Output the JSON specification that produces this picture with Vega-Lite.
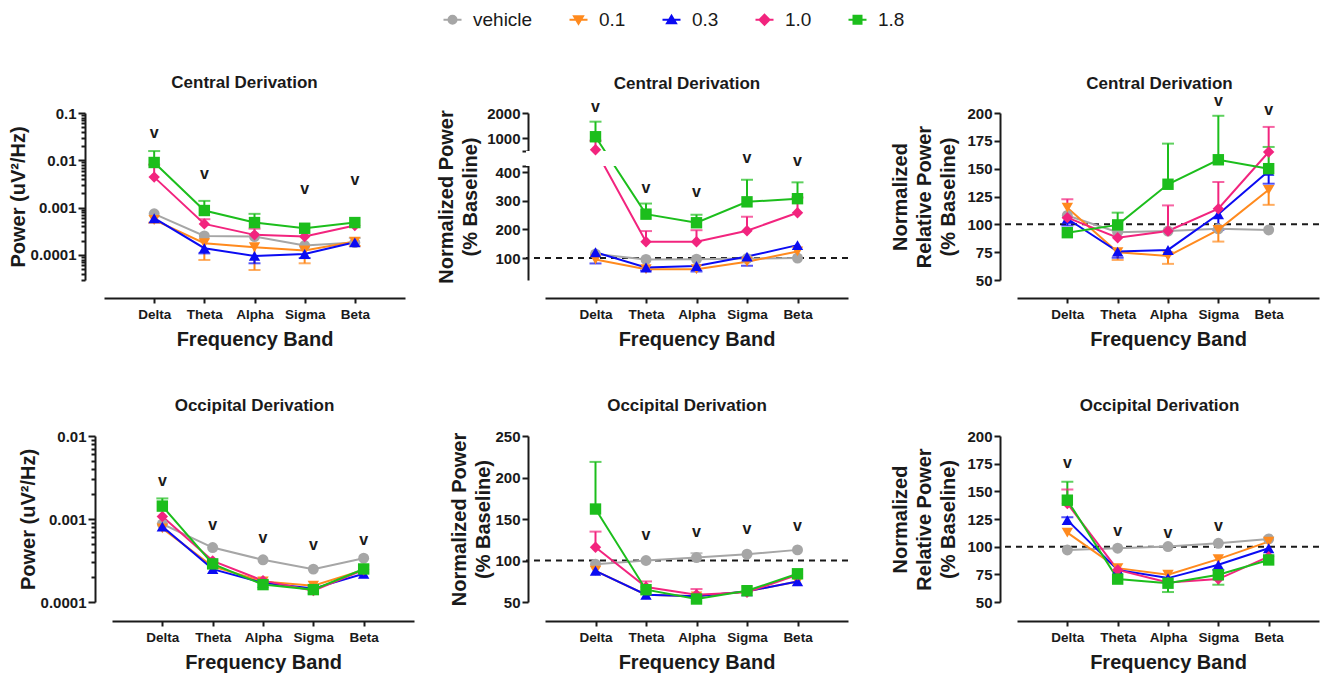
{
"$schema": "https://vega.github.io/schema/vega-lite/v6.json",
"padding": {"left": 8, "top": 10, "right": 0, "bottom": 0},
"config": {
 "view": {"stroke": null},
 "font": "Liberation Sans",
 "axis": {"domainColor": "#1a1a1a", "domainWidth": 2, "tickColor": "#1a1a1a", "tickWidth": 2, "tickSize": 6, "labelFont": "Liberation Sans", "labelFontWeight": "bold", "labelColor": "#1a1a1a", "titleFont": "Liberation Sans", "titleFontWeight": "bold", "titleFontSize": 20, "titleColor": "#1a1a1a", "grid": false, "titleLineHeight": 24, "labelOverlap": false},
 "axisX": {"labelFontSize": 13.5, "labelAngle": 0, "tickSize": 5, "labelPadding": 4, "titlePadding": 9},
 "axisY": {"labelFontSize": 15, "labelPadding": 2},
 "title": {"font": "Liberation Sans", "fontSize": 17, "fontWeight": "bold", "color": "#1a1a1a", "frame": "group", "offset": 14}
},
"datasets": {
 "p1": [
  {"b":"Delta","g":"vehicle","v":0.00074},{"b":"Theta","g":"vehicle","v":0.000253},{"b":"Alpha","g":"vehicle","v":0.000245},{"b":"Sigma","g":"vehicle","v":0.000158},{"b":"Beta","g":"vehicle","v":0.000183,"e":0.000228},
  {"b":"Delta","g":"0.1","v":0.00055,"e":0.00048},{"b":"Theta","g":"0.1","v":0.000177,"e":0.0000785},{"b":"Alpha","g":"0.1","v":0.000146,"e":0.0000482},{"b":"Sigma","g":"0.1","v":0.000124,"e":0.0000667},{"b":"Beta","g":"0.1","v":0.000192,"e":0.000155},
  {"b":"Delta","g":"0.3","v":0.000598},{"b":"Theta","g":"0.3","v":0.000139,"e":0.000108},{"b":"Alpha","g":"0.3","v":0.0000955,"e":0.0000667},{"b":"Sigma","g":"0.3","v":0.000105,"e":0.000086},{"b":"Beta","g":"0.3","v":0.000185},
  {"b":"Delta","g":"1.0","v":0.00442,"e":0.0081},{"b":"Theta","g":"1.0","v":0.000454,"e":0.00057},{"b":"Alpha","g":"1.0","v":0.000266,"e":0.00036},{"b":"Sigma","g":"1.0","v":0.000245},{"b":"Beta","g":"1.0","v":0.000419},
  {"b":"Delta","g":"1.8","v":0.009,"e":0.0157},{"b":"Theta","g":"1.8","v":0.00087,"e":0.00139},{"b":"Alpha","g":"1.8","v":0.000484,"e":0.00074},{"b":"Sigma","g":"1.8","v":0.000367},{"b":"Beta","g":"1.8","v":0.000484}
 ],
 "p1v": [{"b":"Delta","y":0.0366},{"b":"Theta","y":0.00494},{"b":"Sigma","y":0.00238},{"b":"Beta","y":0.00357}],
 "p2": [
  {"b":"Delta","g":"vehicle","v":114},{"b":"Theta","g":"vehicle","v":95},{"b":"Alpha","g":"vehicle","v":96},{"b":"Sigma","g":"vehicle","v":98},{"b":"Beta","g":"vehicle","v":100},
  {"b":"Delta","g":"0.1","v":95},{"b":"Theta","g":"0.1","v":61},{"b":"Alpha","g":"0.1","v":61},{"b":"Sigma","g":"0.1","v":87},{"b":"Beta","g":"0.1","v":123},
  {"b":"Delta","g":"0.3","v":120,"e":81},{"b":"Theta","g":"0.3","v":67,"e":56},{"b":"Alpha","g":"0.3","v":72,"e":53},{"b":"Sigma","g":"0.3","v":105,"e":73},{"b":"Beta","g":"0.3","v":145},
  {"b":"Delta","g":"1.0","v":533,"e":893},{"b":"Theta","g":"1.0","v":157,"e":194},{"b":"Alpha","g":"1.0","v":157,"e":197},{"b":"Sigma","g":"1.0","v":195,"e":244},{"b":"Beta","g":"1.0","v":258,"e":311},
  {"b":"Delta","g":"1.8","v":1050,"e":1653},{"b":"Theta","g":"1.8","v":253,"e":290},{"b":"Alpha","g":"1.8","v":223,"e":251},{"b":"Sigma","g":"1.8","v":296,"e":373},{"b":"Beta","g":"1.8","v":307,"e":364}
 ],
 "p2v": [{"b":"Delta","y":2200},{"b":"Theta","y":342},{"b":"Alpha","y":327},{"b":"Sigma","y":447},{"b":"Beta","y":438}],
 "p3": [
  {"b":"Delta","g":"vehicle","v":108},{"b":"Theta","g":"vehicle","v":93},{"b":"Alpha","g":"vehicle","v":94},{"b":"Sigma","g":"vehicle","v":96},{"b":"Beta","g":"vehicle","v":95},
  {"b":"Delta","g":"0.1","v":115},{"b":"Theta","g":"0.1","v":75,"e":68},{"b":"Alpha","g":"0.1","v":71.5,"e":64.5},{"b":"Sigma","g":"0.1","v":95,"e":84.5},{"b":"Beta","g":"0.1","v":131,"e":117.5},
  {"b":"Delta","g":"0.3","v":105,"e":99},{"b":"Theta","g":"0.3","v":75.5,"e":70},{"b":"Alpha","g":"0.3","v":77},{"b":"Sigma","g":"0.3","v":109,"e":95},{"b":"Beta","g":"0.3","v":148,"e":136.5},
  {"b":"Delta","g":"1.0","v":106,"e":122.5},{"b":"Theta","g":"1.0","v":88},{"b":"Alpha","g":"1.0","v":94,"e":117},{"b":"Sigma","g":"1.0","v":114,"e":138},{"b":"Beta","g":"1.0","v":165,"e":187.5},
  {"b":"Delta","g":"1.8","v":92.5},{"b":"Theta","g":"1.8","v":99.5,"e":110.5},{"b":"Alpha","g":"1.8","v":136,"e":172.5},{"b":"Sigma","g":"1.8","v":158,"e":197.5},{"b":"Beta","g":"1.8","v":150,"e":169.5}
 ],
 "p3v": [{"b":"Sigma","y":209.6},{"b":"Beta","y":201.5}],
 "p4": [
  {"b":"Delta","g":"vehicle","v":0.00087},{"b":"Theta","g":"vehicle","v":0.000453},{"b":"Alpha","g":"vehicle","v":0.000322},{"b":"Sigma","g":"vehicle","v":0.000249},{"b":"Beta","g":"vehicle","v":0.000337},
  {"b":"Delta","g":"0.1","v":0.00077},{"b":"Theta","g":"0.1","v":0.000268},{"b":"Alpha","g":"0.1","v":0.000177},{"b":"Sigma","g":"0.1","v":0.000157},{"b":"Beta","g":"0.1","v":0.000244},
  {"b":"Delta","g":"0.3","v":0.00081},{"b":"Theta","g":"0.3","v":0.000249},{"b":"Alpha","g":"0.3","v":0.00017},{"b":"Sigma","g":"0.3","v":0.000145},{"b":"Beta","g":"0.3","v":0.000219},
  {"b":"Delta","g":"1.0","v":0.00107},{"b":"Theta","g":"1.0","v":0.000313},{"b":"Alpha","g":"1.0","v":0.000181},{"b":"Sigma","g":"1.0","v":0.000137},{"b":"Beta","g":"1.0","v":0.000244},
  {"b":"Delta","g":"1.8","v":0.00143,"e":0.00177},{"b":"Theta","g":"1.8","v":0.000288},{"b":"Alpha","g":"1.8","v":0.000162},{"b":"Sigma","g":"1.8","v":0.000141},{"b":"Beta","g":"1.8","v":0.00025}
 ],
 "p4v": [{"b":"Delta","y":0.0028},{"b":"Theta","y":0.000824},{"b":"Alpha","y":0.000575},{"b":"Sigma","y":0.000479},{"b":"Beta","y":0.00055}],
 "p5": [
  {"b":"Delta","g":"vehicle","v":95.6},{"b":"Theta","g":"vehicle","v":100},{"b":"Alpha","g":"vehicle","v":103.6,"e":108.8},{"b":"Sigma","g":"vehicle","v":107.6},{"b":"Beta","g":"vehicle","v":112.8},
  {"b":"Delta","g":"0.1","v":87.6},{"b":"Theta","g":"0.1","v":58.8},{"b":"Alpha","g":"0.1","v":56.8},{"b":"Sigma","g":"0.1","v":62.8},{"b":"Beta","g":"0.1","v":74.8},
  {"b":"Delta","g":"0.3","v":87.6},{"b":"Theta","g":"0.3","v":58.8},{"b":"Alpha","g":"0.3","v":56.8},{"b":"Sigma","g":"0.3","v":62.8},{"b":"Beta","g":"0.3","v":74.8},
  {"b":"Delta","g":"1.0","v":116,"e":134.8},{"b":"Theta","g":"1.0","v":68,"e":74.8},{"b":"Alpha","g":"1.0","v":58.8,"e":65.6},{"b":"Sigma","g":"1.0","v":61.6},{"b":"Beta","g":"1.0","v":82.8},
  {"b":"Delta","g":"1.8","v":162,"e":218.8},{"b":"Theta","g":"1.8","v":64.8},{"b":"Alpha","g":"1.8","v":53.6},{"b":"Sigma","g":"1.8","v":63.6},{"b":"Beta","g":"1.8","v":84}
 ],
 "p5v": [{"b":"Theta","y":130},{"b":"Alpha","y":132.8},{"b":"Sigma","y":136.8},{"b":"Beta","y":140.8}],
 "p6": [
  {"b":"Delta","g":"vehicle","v":97},{"b":"Theta","g":"vehicle","v":98.6},{"b":"Alpha","g":"vehicle","v":100.1},{"b":"Sigma","g":"vehicle","v":103},{"b":"Beta","g":"vehicle","v":107},
  {"b":"Delta","g":"0.1","v":112.7},{"b":"Theta","g":"0.1","v":80.6},{"b":"Alpha","g":"0.1","v":74.6},{"b":"Sigma","g":"0.1","v":88.7},{"b":"Beta","g":"0.1","v":104.6},
  {"b":"Delta","g":"0.3","v":124,"e":126.5},{"b":"Theta","g":"0.3","v":79},{"b":"Alpha","g":"0.3","v":71.6},{"b":"Sigma","g":"0.3","v":83.6,"e":79},{"b":"Beta","g":"0.3","v":98.6},
  {"b":"Delta","g":"1.0","v":139,"e":151.7},{"b":"Theta","g":"1.0","v":79},{"b":"Alpha","g":"1.0","v":67.7},{"b":"Sigma","g":"1.0","v":70.7},{"b":"Beta","g":"1.0","v":91},
  {"b":"Delta","g":"1.8","v":142,"e":158.6},{"b":"Theta","g":"1.8","v":70.7},{"b":"Alpha","g":"1.8","v":67,"e":59},{"b":"Sigma","g":"1.8","v":74.6,"e":65.6},{"b":"Beta","g":"1.8","v":88}
 ],
 "p6v": [{"b":"Delta","y":174.5},{"b":"Theta","y":113.6},{"b":"Alpha","y":111.5},{"b":"Sigma","y":118}]
},
"columns": 3,
"spacing": {"row": 156, "column": 152},
"bounds": "flush",
"align": "each",
"concat": [
 {
  "width": 279, "height": 167,
  "title": {"text": "Central Derivation", "dx": 10},
  "data": {"name": "p1"},
  "encoding": {
   "x": {"field": "b", "type": "ordinal", "sort": ["Delta","Theta","Alpha","Sigma","Beta"], "scale": {"type": "point", "padding": 1, "range": [9, 310]}, "axis": {"title": "Frequency Band", "offset": 18}},
   "y": {"field": "v", "type": "quantitative", "scale": {"type": "log", "domain": [0.0000296, 0.1], "nice": false}, "axis": {"title": "Power (uV²/Hz)", "offset": 10, "titlePadding": 2, "labelOverlap": false, "values": [0.1,0.09,0.08,0.07,0.06,0.05,0.04,0.03,0.02,0.01,0.009,0.008,0.007,0.006,0.005,0.004,0.003,0.002,0.001,0.0009,0.0008,0.0007,0.0006,0.0005,0.0004,0.0003,0.0002,0.0001,0.00009,0.00008,0.00007,0.00006,0.00005,0.00004,0.00003], "labelExpr": "indexof([0.1,0.01,0.001,0.0001], datum.value) >= 0 ? format(datum.value, '~g') : ''", "tickSize": {"condition": {"test": "indexof([0.1,0.01,0.001,0.0001], datum.value) >= 0", "value": 7}, "value": 4}}},
   "color": {"field": "g", "type": "nominal", "scale": {"domain": ["vehicle","0.1","0.3","1.0","1.8"], "range": ["#A6A6A6","#FF8A1E","#0B0BF2","#F2247E","#1CBE1C"]},
    "legend": {"title": null, "orient": "none", "legendX": 348, "legendY": -103, "direction": "horizontal", "labelFont": "Liberation Sans", "labelFontSize": 19, "labelFontWeight": "normal", "labelColor": "#1a1a1a", "symbolSize": 100, "symbolStrokeWidth": 2, "labelOffset": 11, "columnPadding": 32, "padding": 0,
     "encode": {"symbols": {"update": {
      "shape": {"signal": "datum.value === 'vehicle' ? 'M-1.8,0H1.8M-0.8,0A0.8,0.8,0,1,1,0.8,0A0.8,0.8,0,1,1,-0.8,0Z' : datum.value === '0.1' ? 'M-1.8,0H1.8M-0.9,-0.7L0.9,-0.7L0,0.8Z' : datum.value === '0.3' ? 'M-1.8,0H1.8M-0.9,0.7L0.9,0.7L0,-0.8Z' : datum.value === '1.0' ? 'M-1.8,0H1.8M0,-1L1,0L0,1L-1,0Z' : 'M-1.8,0H1.8M-0.8,-0.8H0.8V0.8H-0.8Z'"},
      "fill": {"scale": "color", "field": "value"}, "stroke": {"scale": "color", "field": "value"}, "strokeWidth": {"value": 2}, "opacity": {"value": 1}}}}}}
  },
  "layer": [
   {"transform": [{"filter": "isValid(datum.e)"}], "mark": {"type": "rule", "strokeWidth": 2}, "encoding": {"y2": {"field": "e"}}},
   {"transform": [{"filter": "isValid(datum.e)"}], "mark": {"type": "tick", "thickness": 2, "size": 12}, "encoding": {"y": {"field": "e", "type": "quantitative", "scale": {"type": "log", "domain": [0.0000296, 0.1], "nice": false}}}},
   {"mark": {"type": "line", "strokeWidth": 2}},
   {"transform": [{"filter": "datum.g === 'vehicle'"}], "mark": {"type": "point", "shape": "circle", "filled": true, "size": 120, "opacity": 1}},
   {"transform": [{"filter": "datum.g === '0.1'"}], "mark": {"type": "point", "shape": "triangle-down", "filled": true, "size": 130, "opacity": 1}},
   {"transform": [{"filter": "datum.g === '0.3'"}], "mark": {"type": "point", "shape": "triangle-up", "filled": true, "size": 130, "opacity": 1}},
   {"transform": [{"filter": "datum.g === '1.0'"}], "mark": {"type": "point", "shape": "diamond", "filled": true, "size": 130, "opacity": 1}},
   {"transform": [{"filter": "datum.g === '1.8'"}], "mark": {"type": "point", "shape": "square", "filled": true, "size": 130, "opacity": 1}},
   {"data": {"name": "p1v"}, "mark": {"type": "text", "text": "v", "fontSize": 16, "fontWeight": "bold", "font": "Liberation Sans", "baseline": "alphabetic", "dy": 4},
    "encoding": {"y": {"field": "y", "type": "quantitative", "scale": {"type": "log", "domain": [0.0000296, 0.1], "nice": false}}, "color": {"value": "#1a1a1a"}}}
  ]
 },
 {
  "width": 322, "height": 167,
  "title": {"text": "Central Derivation", "offset": 6},
  "layer": [
   {"data": {"values": [{}]}, "mark": {"type": "rule", "strokeDash": [6,5], "strokeWidth": 2, "color": "#1a1a1a"},
    "encoding": {"y": {"datum": 100, "type": "quantitative", "scale": {"domain": [23.3, 421, 480, 2000], "range": [167, 53, 38, 0], "nice": false, "zero": false}, "axis": {"title": ["Normalized Power", "(% Baseline)"], "offset": -2, "titlePadding": 6, "labelOverlap": false, "values": [100,200,300,400,421,480,1000,2000], "format": "d", "labelExpr": "datum.value == 421 || datum.value == 480 ? '' : datum.label"}}}},
   {"data": {"name": "p2"},
    "encoding": {
     "x": {"field": "b", "type": "ordinal", "sort": ["Delta","Theta","Alpha","Sigma","Beta"], "scale": {"type": "point", "padding": 1, "range": [19, 322]}, "axis": {"title": "Frequency Band", "offset": 18}},
     "y": {"field": "v", "type": "quantitative", "scale": {"domain": [23.3, 421, 480, 2000], "range": [167, 53, 38, 0], "nice": false, "zero": false}, "axis": {"title": ["Normalized Power", "(% Baseline)"], "offset": -2, "titlePadding": 6, "labelOverlap": false, "values": [100,200,300,400,421,480,1000,2000], "format": "d", "labelExpr": "datum.value == 421 || datum.value == 480 ? '' : datum.label"}},
     "color": {"field": "g", "type": "nominal", "scale": {"domain": ["vehicle","0.1","0.3","1.0","1.8"], "range": ["#A6A6A6","#FF8A1E","#0B0BF2","#F2247E","#1CBE1C"]},
      "legend": {"title": null, "orient": "none", "legendX": 348, "legendY": -103, "direction": "horizontal", "labelFont": "Liberation Sans", "labelFontSize": 19, "labelFontWeight": "normal", "labelColor": "#1a1a1a", "symbolSize": 100, "symbolStrokeWidth": 2, "labelOffset": 11, "columnPadding": 32, "padding": 0,
       "encode": {"symbols": {"update": {
        "shape": {"signal": "datum.value === 'vehicle' ? 'M-1.8,0H1.8M-0.8,0A0.8,0.8,0,1,1,0.8,0A0.8,0.8,0,1,1,-0.8,0Z' : datum.value === '0.1' ? 'M-1.8,0H1.8M-0.9,-0.7L0.9,-0.7L0,0.8Z' : datum.value === '0.3' ? 'M-1.8,0H1.8M-0.9,0.7L0.9,0.7L0,-0.8Z' : datum.value === '1.0' ? 'M-1.8,0H1.8M0,-1L1,0L0,1L-1,0Z' : 'M-1.8,0H1.8M-0.8,-0.8H0.8V0.8H-0.8Z'"},
        "fill": {"scale": "color", "field": "value"}, "stroke": {"scale": "color", "field": "value"}, "strokeWidth": {"value": 2}, "opacity": {"value": 1}}}}}}
    },
    "layer": [
     {"transform": [{"filter": "isValid(datum.e)"}], "mark": {"type": "rule", "strokeWidth": 2}, "encoding": {"y2": {"field": "e"}}},
     {"transform": [{"filter": "isValid(datum.e)"}], "mark": {"type": "tick", "thickness": 2, "size": 12}, "encoding": {"y": {"field": "e", "type": "quantitative", "scale": {"domain": [23.3, 421, 480, 2000], "range": [167, 53, 38, 0], "nice": false, "zero": false}, "axis": {"title": ["Normalized Power", "(% Baseline)"], "offset": -2, "titlePadding": 6, "labelOverlap": false, "values": [100,200,300,400,421,480,1000,2000], "format": "d", "labelExpr": "datum.value == 421 || datum.value == 480 ? '' : datum.label"}}}},
     {"mark": {"type": "line", "strokeWidth": 2}}
    ]},
   {"data": {"values": [{}]}, "mark": {"type": "rect", "color": "white"},
    "encoding": {"y": {"datum": 421, "type": "quantitative", "scale": {"domain": [23.3, 421, 480, 2000], "range": [167, 53, 38, 0], "nice": false, "zero": false}, "axis": {"title": ["Normalized Power", "(% Baseline)"], "offset": -2, "titlePadding": 6, "labelOverlap": false, "values": [100,200,300,400,421,480,1000,2000], "format": "d", "labelExpr": "datum.value == 421 || datum.value == 480 ? '' : datum.label"}}, "y2": {"datum": 480}}},
   {"data": {"name": "p2"},
    "encoding": {
     "x": {"field": "b", "type": "ordinal", "sort": ["Delta","Theta","Alpha","Sigma","Beta"], "scale": {"type": "point", "padding": 1, "range": [19, 322]}, "axis": {"title": "Frequency Band", "offset": 18}},
     "y": {"field": "v", "type": "quantitative", "scale": {"domain": [23.3, 421, 480, 2000], "range": [167, 53, 38, 0], "nice": false, "zero": false}, "axis": {"title": ["Normalized Power", "(% Baseline)"], "offset": -2, "titlePadding": 6, "labelOverlap": false, "values": [100,200,300,400,421,480,1000,2000], "format": "d", "labelExpr": "datum.value == 421 || datum.value == 480 ? '' : datum.label"}},
     "color": {"field": "g", "type": "nominal", "scale": {"domain": ["vehicle","0.1","0.3","1.0","1.8"], "range": ["#A6A6A6","#FF8A1E","#0B0BF2","#F2247E","#1CBE1C"]},
      "legend": {"title": null, "orient": "none", "legendX": 348, "legendY": -103, "direction": "horizontal", "labelFont": "Liberation Sans", "labelFontSize": 19, "labelFontWeight": "normal", "labelColor": "#1a1a1a", "symbolSize": 100, "symbolStrokeWidth": 2, "labelOffset": 11, "columnPadding": 32, "padding": 0,
       "encode": {"symbols": {"update": {
        "shape": {"signal": "datum.value === 'vehicle' ? 'M-1.8,0H1.8M-0.8,0A0.8,0.8,0,1,1,0.8,0A0.8,0.8,0,1,1,-0.8,0Z' : datum.value === '0.1' ? 'M-1.8,0H1.8M-0.9,-0.7L0.9,-0.7L0,0.8Z' : datum.value === '0.3' ? 'M-1.8,0H1.8M-0.9,0.7L0.9,0.7L0,-0.8Z' : datum.value === '1.0' ? 'M-1.8,0H1.8M0,-1L1,0L0,1L-1,0Z' : 'M-1.8,0H1.8M-0.8,-0.8H0.8V0.8H-0.8Z'"},
        "fill": {"scale": "color", "field": "value"}, "stroke": {"scale": "color", "field": "value"}, "strokeWidth": {"value": 2}, "opacity": {"value": 1}}}}}}
    },
    "layer": [
     {"transform": [{"filter": "datum.g === 'vehicle'"}], "mark": {"type": "point", "shape": "circle", "filled": true, "size": 120, "opacity": 1}},
     {"transform": [{"filter": "datum.g === '0.1'"}], "mark": {"type": "point", "shape": "triangle-down", "filled": true, "size": 130, "opacity": 1}},
     {"transform": [{"filter": "datum.g === '0.3'"}], "mark": {"type": "point", "shape": "triangle-up", "filled": true, "size": 130, "opacity": 1}},
     {"transform": [{"filter": "datum.g === '1.0'"}], "mark": {"type": "point", "shape": "diamond", "filled": true, "size": 130, "opacity": 1}},
     {"transform": [{"filter": "datum.g === '1.8'"}], "mark": {"type": "point", "shape": "square", "filled": true, "size": 130, "opacity": 1}},
     {"data": {"name": "p2v"}, "mark": {"type": "text", "text": "v", "fontSize": 16, "fontWeight": "bold", "font": "Liberation Sans", "baseline": "alphabetic", "dy": 4},
      "encoding": {"y": {"field": "y", "type": "quantitative", "scale": {"domain": [23.3, 421, 480, 2000], "range": [167, 53, 38, 0], "nice": false, "zero": false}, "axis": {"title": ["Normalized Power", "(% Baseline)"], "offset": -2, "titlePadding": 6, "labelOverlap": false, "values": [100,200,300,400,421,480,1000,2000], "format": "d", "labelExpr": "datum.value == 421 || datum.value == 480 ? '' : datum.label"}}, "color": {"value": "#1a1a1a"}}}
    ]}
  ]
 },
 {
  "width": 319, "height": 167,
  "title": {"text": "Central Derivation", "offset": 0},
  "layer": [
   {"data": {"values": [{}]}, "mark": {"type": "rule", "strokeDash": [6,5], "strokeWidth": 2, "color": "#1a1a1a"},
    "encoding": {"y": {"datum": 100, "type": "quantitative", "scale": {"domain": [50, 200], "nice": false, "zero": false}, "axis": {"title": ["Normalized", "Relative Power", "(% Baseline)"], "titlePadding": 8, "labelOverlap": false, "values": [50,75,100,125,150,175,200], "format": "d"}}}},
   {"data": {"name": "p3"},
    "encoding": {
     "x": {"field": "b", "type": "ordinal", "sort": ["Delta","Theta","Alpha","Sigma","Beta"], "scale": {"type": "point", "padding": 1, "range": [17, 319]}, "axis": {"title": "Frequency Band", "offset": 18}},
     "y": {"field": "v", "type": "quantitative", "scale": {"domain": [50, 200], "nice": false, "zero": false}, "axis": {"title": ["Normalized", "Relative Power", "(% Baseline)"], "titlePadding": 8, "labelOverlap": false, "values": [50,75,100,125,150,175,200], "format": "d"}},
     "color": {"field": "g", "type": "nominal", "scale": {"domain": ["vehicle","0.1","0.3","1.0","1.8"], "range": ["#A6A6A6","#FF8A1E","#0B0BF2","#F2247E","#1CBE1C"]},
      "legend": {"title": null, "orient": "none", "legendX": 348, "legendY": -103, "direction": "horizontal", "labelFont": "Liberation Sans", "labelFontSize": 19, "labelFontWeight": "normal", "labelColor": "#1a1a1a", "symbolSize": 100, "symbolStrokeWidth": 2, "labelOffset": 11, "columnPadding": 32, "padding": 0,
       "encode": {"symbols": {"update": {
        "shape": {"signal": "datum.value === 'vehicle' ? 'M-1.8,0H1.8M-0.8,0A0.8,0.8,0,1,1,0.8,0A0.8,0.8,0,1,1,-0.8,0Z' : datum.value === '0.1' ? 'M-1.8,0H1.8M-0.9,-0.7L0.9,-0.7L0,0.8Z' : datum.value === '0.3' ? 'M-1.8,0H1.8M-0.9,0.7L0.9,0.7L0,-0.8Z' : datum.value === '1.0' ? 'M-1.8,0H1.8M0,-1L1,0L0,1L-1,0Z' : 'M-1.8,0H1.8M-0.8,-0.8H0.8V0.8H-0.8Z'"},
        "fill": {"scale": "color", "field": "value"}, "stroke": {"scale": "color", "field": "value"}, "strokeWidth": {"value": 2}, "opacity": {"value": 1}}}}}}
    },
    "layer": [
     {"transform": [{"filter": "isValid(datum.e)"}], "mark": {"type": "rule", "strokeWidth": 2}, "encoding": {"y2": {"field": "e"}}},
     {"transform": [{"filter": "isValid(datum.e)"}], "mark": {"type": "tick", "thickness": 2, "size": 12}, "encoding": {"y": {"field": "e", "type": "quantitative", "scale": {"domain": [50, 200], "nice": false, "zero": false}, "axis": {"title": ["Normalized", "Relative Power", "(% Baseline)"], "titlePadding": 8, "labelOverlap": false, "values": [50,75,100,125,150,175,200], "format": "d"}}}},
     {"mark": {"type": "line", "strokeWidth": 2}},
     {"transform": [{"filter": "datum.g === 'vehicle'"}], "mark": {"type": "point", "shape": "circle", "filled": true, "size": 120, "opacity": 1}},
     {"transform": [{"filter": "datum.g === '0.1'"}], "mark": {"type": "point", "shape": "triangle-down", "filled": true, "size": 130, "opacity": 1}},
     {"transform": [{"filter": "datum.g === '0.3'"}], "mark": {"type": "point", "shape": "triangle-up", "filled": true, "size": 130, "opacity": 1}},
     {"transform": [{"filter": "datum.g === '1.0'"}], "mark": {"type": "point", "shape": "diamond", "filled": true, "size": 130, "opacity": 1}},
     {"transform": [{"filter": "datum.g === '1.8'"}], "mark": {"type": "point", "shape": "square", "filled": true, "size": 130, "opacity": 1}},
     {"data": {"name": "p3v"}, "mark": {"type": "text", "text": "v", "fontSize": 16, "fontWeight": "bold", "font": "Liberation Sans", "baseline": "alphabetic", "dy": 4},
      "encoding": {"y": {"field": "y", "type": "quantitative", "scale": {"domain": [50, 200], "nice": false, "zero": false}, "axis": {"title": ["Normalized", "Relative Power", "(% Baseline)"], "titlePadding": 8, "labelOverlap": false, "values": [50,75,100,125,150,175,200], "format": "d"}}, "color": {"value": "#1a1a1a"}}}
    ]}
  ]
 },
 {
  "width": 279, "height": 166,
  "title": {"text": "Occipital Derivation", "dx": 20},
  "data": {"name": "p4"},
  "encoding": {
   "x": {"field": "b", "type": "ordinal", "sort": ["Delta","Theta","Alpha","Sigma","Beta"], "scale": {"type": "point", "padding": 1, "range": [17, 319]}, "axis": {"title": "Frequency Band", "offset": 19}},
   "y": {"field": "v", "type": "quantitative", "scale": {"type": "log", "domain": [0.0001, 0.01], "nice": false}, "axis": {"title": "Power (uV²/Hz)", "titlePadding": 2, "labelOverlap": false, "values": [0.01,0.009,0.008,0.007,0.006,0.005,0.004,0.003,0.002,0.001,0.0009,0.0008,0.0007,0.0006,0.0005,0.0004,0.0003,0.0002,0.0001], "labelExpr": "indexof([0.01,0.001,0.0001], datum.value) >= 0 ? format(datum.value, '~g') : ''", "tickSize": {"condition": {"test": "indexof([0.01,0.001,0.0001], datum.value) >= 0", "value": 7}, "value": 4}}},
   "color": {"field": "g", "type": "nominal", "scale": {"domain": ["vehicle","0.1","0.3","1.0","1.8"], "range": ["#A6A6A6","#FF8A1E","#0B0BF2","#F2247E","#1CBE1C"]},
    "legend": {"title": null, "orient": "none", "legendX": 348, "legendY": -103, "direction": "horizontal", "labelFont": "Liberation Sans", "labelFontSize": 19, "labelFontWeight": "normal", "labelColor": "#1a1a1a", "symbolSize": 100, "symbolStrokeWidth": 2, "labelOffset": 11, "columnPadding": 32, "padding": 0,
     "encode": {"symbols": {"update": {
      "shape": {"signal": "datum.value === 'vehicle' ? 'M-1.8,0H1.8M-0.8,0A0.8,0.8,0,1,1,0.8,0A0.8,0.8,0,1,1,-0.8,0Z' : datum.value === '0.1' ? 'M-1.8,0H1.8M-0.9,-0.7L0.9,-0.7L0,0.8Z' : datum.value === '0.3' ? 'M-1.8,0H1.8M-0.9,0.7L0.9,0.7L0,-0.8Z' : datum.value === '1.0' ? 'M-1.8,0H1.8M0,-1L1,0L0,1L-1,0Z' : 'M-1.8,0H1.8M-0.8,-0.8H0.8V0.8H-0.8Z'"},
      "fill": {"scale": "color", "field": "value"}, "stroke": {"scale": "color", "field": "value"}, "strokeWidth": {"value": 2}, "opacity": {"value": 1}}}}}}
  },
  "layer": [
   {"transform": [{"filter": "isValid(datum.e)"}], "mark": {"type": "rule", "strokeWidth": 2}, "encoding": {"y2": {"field": "e"}}},
   {"transform": [{"filter": "isValid(datum.e)"}], "mark": {"type": "tick", "thickness": 2, "size": 12}, "encoding": {"y": {"field": "e", "type": "quantitative"}}},
   {"mark": {"type": "line", "strokeWidth": 2}},
   {"transform": [{"filter": "datum.g === 'vehicle'"}], "mark": {"type": "point", "shape": "circle", "filled": true, "size": 120, "opacity": 1}},
   {"transform": [{"filter": "datum.g === '0.1'"}], "mark": {"type": "point", "shape": "triangle-down", "filled": true, "size": 130, "opacity": 1}},
   {"transform": [{"filter": "datum.g === '0.3'"}], "mark": {"type": "point", "shape": "triangle-up", "filled": true, "size": 130, "opacity": 1}},
   {"transform": [{"filter": "datum.g === '1.0'"}], "mark": {"type": "point", "shape": "diamond", "filled": true, "size": 130, "opacity": 1}},
   {"transform": [{"filter": "datum.g === '1.8'"}], "mark": {"type": "point", "shape": "square", "filled": true, "size": 130, "opacity": 1}},
   {"data": {"name": "p4v"}, "mark": {"type": "text", "text": "v", "fontSize": 16, "fontWeight": "bold", "font": "Liberation Sans", "baseline": "alphabetic", "dy": 4},
    "encoding": {"y": {"field": "y", "type": "quantitative"}, "color": {"value": "#1a1a1a"}}}
  ]
 },
 {
  "width": 322, "height": 166,
  "title": {"text": "Occipital Derivation"},
  "layer": [
   {"data": {"values": [{}]}, "mark": {"type": "rule", "strokeDash": [6,5], "strokeWidth": 2, "color": "#1a1a1a"},
    "encoding": {"y": {"datum": 100, "type": "quantitative", "scale": {"domain": [50, 250], "nice": false, "zero": false}, "axis": {"title": ["Normalized Power", "(% Baseline)"], "offset": -2, "titlePadding": 1, "labelOverlap": false, "values": [50,100,150,200,250], "format": "d"}}}},
   {"data": {"name": "p5"},
    "encoding": {
     "x": {"field": "b", "type": "ordinal", "sort": ["Delta","Theta","Alpha","Sigma","Beta"], "scale": {"type": "point", "padding": 1, "range": [19, 322]}, "axis": {"title": "Frequency Band", "offset": 19}},
     "y": {"field": "v", "type": "quantitative", "scale": {"domain": [50, 250], "nice": false, "zero": false}, "axis": {"title": ["Normalized Power", "(% Baseline)"], "offset": -2, "titlePadding": 1, "labelOverlap": false, "values": [50,100,150,200,250], "format": "d"}},
     "color": {"field": "g", "type": "nominal", "scale": {"domain": ["vehicle","0.1","0.3","1.0","1.8"], "range": ["#A6A6A6","#FF8A1E","#0B0BF2","#F2247E","#1CBE1C"]},
      "legend": {"title": null, "orient": "none", "legendX": 348, "legendY": -103, "direction": "horizontal", "labelFont": "Liberation Sans", "labelFontSize": 19, "labelFontWeight": "normal", "labelColor": "#1a1a1a", "symbolSize": 100, "symbolStrokeWidth": 2, "labelOffset": 11, "columnPadding": 32, "padding": 0,
       "encode": {"symbols": {"update": {
        "shape": {"signal": "datum.value === 'vehicle' ? 'M-1.8,0H1.8M-0.8,0A0.8,0.8,0,1,1,0.8,0A0.8,0.8,0,1,1,-0.8,0Z' : datum.value === '0.1' ? 'M-1.8,0H1.8M-0.9,-0.7L0.9,-0.7L0,0.8Z' : datum.value === '0.3' ? 'M-1.8,0H1.8M-0.9,0.7L0.9,0.7L0,-0.8Z' : datum.value === '1.0' ? 'M-1.8,0H1.8M0,-1L1,0L0,1L-1,0Z' : 'M-1.8,0H1.8M-0.8,-0.8H0.8V0.8H-0.8Z'"},
        "fill": {"scale": "color", "field": "value"}, "stroke": {"scale": "color", "field": "value"}, "strokeWidth": {"value": 2}, "opacity": {"value": 1}}}}}}
    },
    "layer": [
     {"transform": [{"filter": "isValid(datum.e)"}], "mark": {"type": "rule", "strokeWidth": 2}, "encoding": {"y2": {"field": "e"}}},
     {"transform": [{"filter": "isValid(datum.e)"}], "mark": {"type": "tick", "thickness": 2, "size": 12}, "encoding": {"y": {"field": "e", "type": "quantitative", "scale": {"domain": [50, 250], "nice": false, "zero": false}, "axis": {"title": ["Normalized Power", "(% Baseline)"], "offset": -2, "titlePadding": 1, "labelOverlap": false, "values": [50,100,150,200,250], "format": "d"}}}},
     {"mark": {"type": "line", "strokeWidth": 2}},
     {"transform": [{"filter": "datum.g === 'vehicle'"}], "mark": {"type": "point", "shape": "circle", "filled": true, "size": 120, "opacity": 1}},
     {"transform": [{"filter": "datum.g === '0.1'"}], "mark": {"type": "point", "shape": "triangle-down", "filled": true, "size": 130, "opacity": 1}},
     {"transform": [{"filter": "datum.g === '0.3'"}], "mark": {"type": "point", "shape": "triangle-up", "filled": true, "size": 130, "opacity": 1}},
     {"transform": [{"filter": "datum.g === '1.0'"}], "mark": {"type": "point", "shape": "diamond", "filled": true, "size": 130, "opacity": 1}},
     {"transform": [{"filter": "datum.g === '1.8'"}], "mark": {"type": "point", "shape": "square", "filled": true, "size": 130, "opacity": 1}},
     {"data": {"name": "p5v"}, "mark": {"type": "text", "text": "v", "fontSize": 16, "fontWeight": "bold", "font": "Liberation Sans", "baseline": "alphabetic", "dy": 4},
      "encoding": {"y": {"field": "y", "type": "quantitative", "scale": {"domain": [50, 250], "nice": false, "zero": false}, "axis": {"title": ["Normalized Power", "(% Baseline)"], "offset": -2, "titlePadding": 1, "labelOverlap": false, "values": [50,100,150,200,250], "format": "d"}}, "color": {"value": "#1a1a1a"}}}
    ]}
  ]
 },
 {
  "width": 319, "height": 166,
  "title": {"text": "Occipital Derivation"},
  "layer": [
   {"data": {"values": [{}]}, "mark": {"type": "rule", "strokeDash": [6,5], "strokeWidth": 2, "color": "#1a1a1a"},
    "encoding": {"y": {"datum": 100, "type": "quantitative", "scale": {"domain": [50, 200], "nice": false, "zero": false}, "axis": {"title": ["Normalized", "Relative Power", "(% Baseline)"], "titlePadding": 8, "labelOverlap": false, "values": [50,75,100,125,150,175,200], "format": "d"}}}},
   {"data": {"name": "p6"},
    "encoding": {
     "x": {"field": "b", "type": "ordinal", "sort": ["Delta","Theta","Alpha","Sigma","Beta"], "scale": {"type": "point", "padding": 1, "range": [17, 319]}, "axis": {"title": "Frequency Band", "offset": 19}},
     "y": {"field": "v", "type": "quantitative", "scale": {"domain": [50, 200], "nice": false, "zero": false}, "axis": {"title": ["Normalized", "Relative Power", "(% Baseline)"], "titlePadding": 8, "labelOverlap": false, "values": [50,75,100,125,150,175,200], "format": "d"}},
     "color": {"field": "g", "type": "nominal", "scale": {"domain": ["vehicle","0.1","0.3","1.0","1.8"], "range": ["#A6A6A6","#FF8A1E","#0B0BF2","#F2247E","#1CBE1C"]},
      "legend": {"title": null, "orient": "none", "legendX": 348, "legendY": -103, "direction": "horizontal", "labelFont": "Liberation Sans", "labelFontSize": 19, "labelFontWeight": "normal", "labelColor": "#1a1a1a", "symbolSize": 100, "symbolStrokeWidth": 2, "labelOffset": 11, "columnPadding": 32, "padding": 0,
       "encode": {"symbols": {"update": {
        "shape": {"signal": "datum.value === 'vehicle' ? 'M-1.8,0H1.8M-0.8,0A0.8,0.8,0,1,1,0.8,0A0.8,0.8,0,1,1,-0.8,0Z' : datum.value === '0.1' ? 'M-1.8,0H1.8M-0.9,-0.7L0.9,-0.7L0,0.8Z' : datum.value === '0.3' ? 'M-1.8,0H1.8M-0.9,0.7L0.9,0.7L0,-0.8Z' : datum.value === '1.0' ? 'M-1.8,0H1.8M0,-1L1,0L0,1L-1,0Z' : 'M-1.8,0H1.8M-0.8,-0.8H0.8V0.8H-0.8Z'"},
        "fill": {"scale": "color", "field": "value"}, "stroke": {"scale": "color", "field": "value"}, "strokeWidth": {"value": 2}, "opacity": {"value": 1}}}}}}
    },
    "layer": [
     {"transform": [{"filter": "isValid(datum.e)"}], "mark": {"type": "rule", "strokeWidth": 2}, "encoding": {"y2": {"field": "e"}}},
     {"transform": [{"filter": "isValid(datum.e)"}], "mark": {"type": "tick", "thickness": 2, "size": 12}, "encoding": {"y": {"field": "e", "type": "quantitative", "scale": {"domain": [50, 200], "nice": false, "zero": false}, "axis": {"title": ["Normalized", "Relative Power", "(% Baseline)"], "titlePadding": 8, "labelOverlap": false, "values": [50,75,100,125,150,175,200], "format": "d"}}}},
     {"mark": {"type": "line", "strokeWidth": 2}},
     {"transform": [{"filter": "datum.g === 'vehicle'"}], "mark": {"type": "point", "shape": "circle", "filled": true, "size": 120, "opacity": 1}},
     {"transform": [{"filter": "datum.g === '0.1'"}], "mark": {"type": "point", "shape": "triangle-down", "filled": true, "size": 130, "opacity": 1}},
     {"transform": [{"filter": "datum.g === '0.3'"}], "mark": {"type": "point", "shape": "triangle-up", "filled": true, "size": 130, "opacity": 1}},
     {"transform": [{"filter": "datum.g === '1.0'"}], "mark": {"type": "point", "shape": "diamond", "filled": true, "size": 130, "opacity": 1}},
     {"transform": [{"filter": "datum.g === '1.8'"}], "mark": {"type": "point", "shape": "square", "filled": true, "size": 130, "opacity": 1}},
     {"data": {"name": "p6v"}, "mark": {"type": "text", "text": "v", "fontSize": 16, "fontWeight": "bold", "font": "Liberation Sans", "baseline": "alphabetic", "dy": 4},
      "encoding": {"y": {"field": "y", "type": "quantitative", "scale": {"domain": [50, 200], "nice": false, "zero": false}, "axis": {"title": ["Normalized", "Relative Power", "(% Baseline)"], "titlePadding": 8, "labelOverlap": false, "values": [50,75,100,125,150,175,200], "format": "d"}}, "color": {"value": "#1a1a1a"}}}
    ]}
  ]
 }
]
}
